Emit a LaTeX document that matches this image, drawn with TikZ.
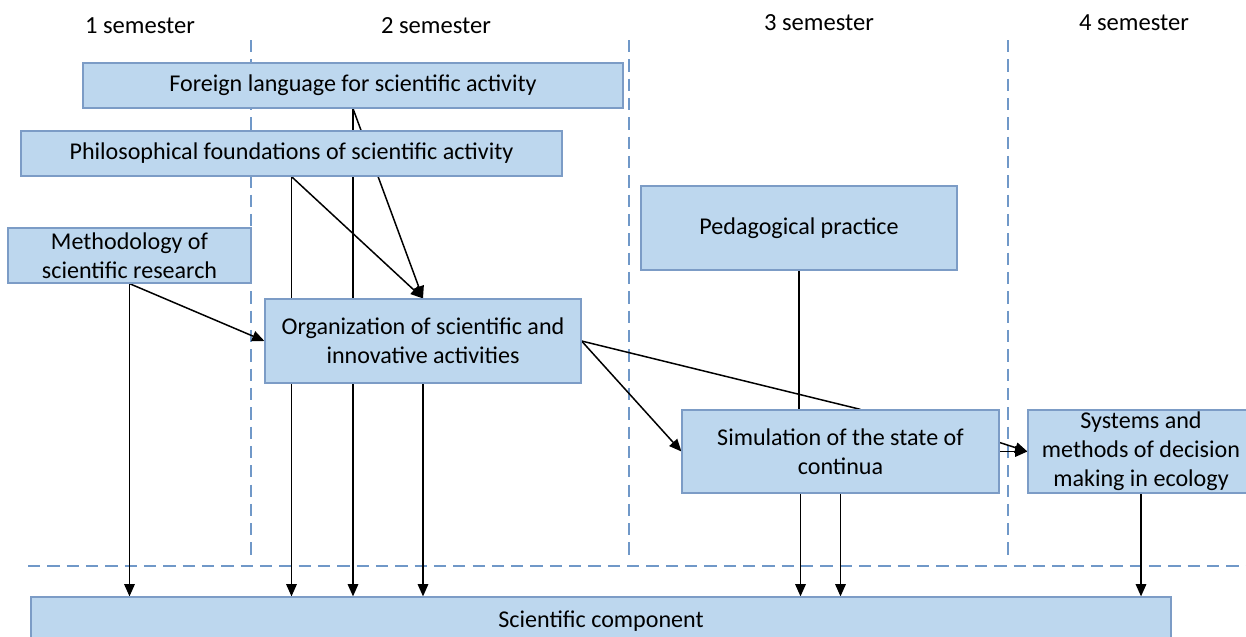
\documentclass[tikz,border=0pt]{standalone}
\usepackage{fontspec}
\setmainfont{Carlito}
\usepackage{tikz}
\usetikzlibrary{arrows.meta,backgrounds}
\definecolor{boxfill}{HTML}{BDD7EE}
\definecolor{boxline}{HTML}{7C9CC6}
\definecolor{guide}{HTML}{7098C8}

\begin{document}
\begin{tikzpicture}[x=0.02cm,y=-0.02cm,
   box/.style={draw=boxline,fill=boxfill,line width=0.7pt,inner sep=0pt,align=center,
               font=\fontsize{13.7}{16.4}\selectfont},
   sem/.style={font=\fontsize{14}{16}\selectfont},
   link/.style={-{Triangle[length=7pt,width=6pt]},line width=0.85pt},
   plain/.style={line width=0.85pt},
   sepline/.style={guide,dashed,dash pattern=on 7pt off 4pt,line width=0.8pt}]
   \useasboundingbox (0,0) rectangle (1246,636);
   \node[sem] (s1) at (140,26) {1 semester};
   \node[sem] (s2) at (436,26) {2 semester};
   \node[sem] (s3) at (819,23) {3 semester};
   \node[sem] (s4) at (1134,23) {4 semester};
   \node[box,minimum width=10.8cm,minimum height=0.9cm] (F) at (353,85.5) {Foreign language for scientific activity};
   \node[box,minimum width=10.82cm,minimum height=0.9cm] (P) at (291.5,153.5) {Philosophical foundations of scientific activity};
   \node[box,minimum width=4.86cm,minimum height=1.1cm] (M) at (129.5,255.5) {Methodology of\\scientific research};
   \node[box,minimum width=6.32cm,minimum height=1.68cm] (O) at (423,341) {Organization of scientific and\\innovative activities};
   \node[box,minimum width=6.32cm,minimum height=1.68cm] (Ped) at (799,228) {Pedagogical practice};
   \node[box,minimum width=6.34cm,minimum height=1.66cm] (S) at (840.5,451.5) {Simulation of the state of\\continua};
   \node[box,minimum width=4.52cm,minimum height=1.66cm] (Sy) at (1141,451.5) {Systems and\\methods of decision\\making in ecology};
   \node[box,minimum width=22.8cm,minimum height=0.96cm] (C) at (601,621) {Scientific component};
   \begin{scope}[on background layer]
   \foreach \x in {251,629,1008}
      \draw[sepline] (\x,40) -- (\x,560);
   \draw[sepline] (28,566) -- (1246,566);
   \path[link]
    (F.south) edge (O.north)
              edge (F.south |- C.north)
    (P.south) edge (O.north)
              edge (P.south |- C.north)
    (M.south) edge (O.west)
              edge (M.south |- C.north)
    (O.south) edge (O.south |- C.north)
    (O.east)  edge (S.west)
    (S.south) edge (S.south |- C.north)
    ([xshift=-0.8cm]S.south) edge ([xshift=-0.8cm]S.south |- C.north)
    (S.east)  edge (Sy.west)
    ([yshift=0.18cm]S.east) edge (Sy.west)
    (Sy.south) edge (Sy.south |- C.north);
   \path[plain]
    (O.east) edge ([xshift=0.4cm]S.north)
    (Ped.south) edge (Ped.south |- S.north);
   \end{scope}
\end{tikzpicture}
\end{document}
